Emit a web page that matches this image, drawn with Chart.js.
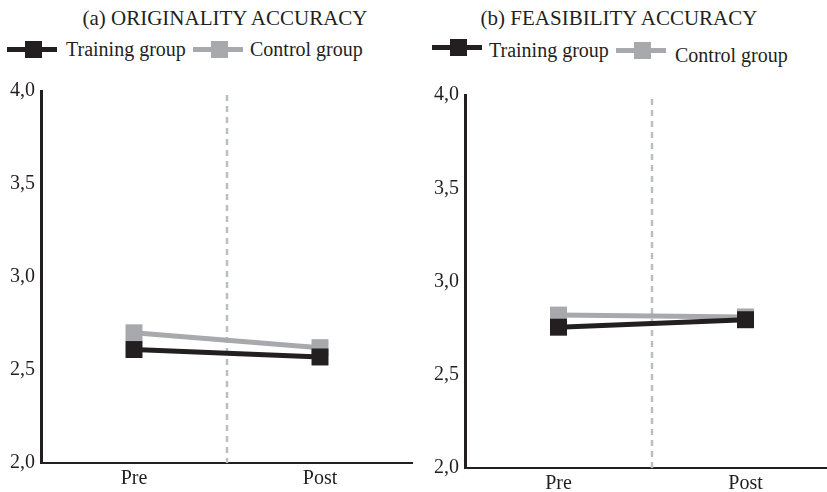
<!DOCTYPE html>
<html>
<head>
<meta charset="utf-8">
<script src="https://cdn.jsdelivr.net/npm/chart.js@4/dist/chart.umd.min.js"></script>
<style>
  html, body { margin: 0; padding: 0; background: #fff; overflow: hidden; width: 827px; height: 492px; }
  body { position: relative; font-family: "Liberation Serif", "Times New Roman", serif; color: #231f20; }
  canvas { position: absolute; top: 0; }
  .title { position: absolute; top: 6px; font-size: 21px; line-height: 24px; white-space: nowrap; transform: translateX(-50%); }
  .sym { position: absolute; width: 50px; height: 5px; }
  .sym i { position: absolute; left: 18px; top: -6px; width: 17px; height: 17px; background: inherit; }
  .lab { position: absolute; font-size: 20px; line-height: 23px; white-space: nowrap; }
</style>
</head>
<body>
<div class="title" style="left:225px">(a) ORIGINALITY ACCURACY</div>
<div class="sym" style="left:7px;top:47px;background:#231f20"><i></i></div>
<div class="lab" style="left:66px;top:38px">Training group</div>
<div class="sym" style="left:193px;top:47px;background:#a7a9ac"><i></i></div>
<div class="lab" style="left:250px;top:38px">Control group</div>

<div class="title" style="left:619px">(b) FEASIBILITY ACCURACY</div>
<div class="sym" style="left:432px;top:45px;background:#231f20"><i></i></div>
<div class="lab" style="left:489px;top:39px">Training group</div>
<div class="sym" style="left:616px;top:48px;background:#a7a9ac"><i></i></div>
<div class="lab" style="left:675px;top:44px">Control group</div>

<canvas id="chartA" width="413" height="492" style="left:0"></canvas>
<canvas id="chartB" width="426" height="492" style="left:413px"></canvas>

<script>
const categories = ['Pre', 'Post'];
const originalityTraining = [2.61, 2.57];
const originalityControl = [2.70, 2.62];
const feasibilityTraining = [2.755, 2.795];
const feasibilityControl = [2.82, 2.81];
const yTicks = [2.0, 2.5, 3.0, 3.5, 4.0];

const dark = '#231f20';
const grey = '#a7a9ac';
const font = { family: '"Liberation Serif", "Times New Roman", serif', size: 20 };

// dashed separator between Pre and Post
const splitLine = {
  id: 'splitLine',
  beforeDatasetsDraw(chart) {
    const x = chart.scales.x;
    const area = chart.chartArea;
    const px = (x.getPixelForValue(0) + x.getPixelForValue(1)) / 2;
    const ctx = chart.ctx;
    ctx.save();
    ctx.strokeStyle = '#bcbec0';
    ctx.lineWidth = 2.5;
    ctx.setLineDash([6, 5]);
    ctx.beginPath();
    ctx.moveTo(px, area.top + 4);
    ctx.lineTo(px, area.bottom);
    ctx.stroke();
    ctx.restore();
  }
};

function makeChart(id, training, control, yWidth, top, xHeight) {
  new Chart(document.getElementById(id), {
    type: 'line',
    data: {
      labels: categories,
      datasets: [
        { label: 'Training group', data: training, borderColor: dark, backgroundColor: dark },
        { label: 'Control group', data: control, borderColor: grey, backgroundColor: grey }
      ]
    },
    options: {
      responsive: false,
      animation: false,
      layout: { autoPadding: false, padding: { top: top, left: 0, right: 0, bottom: 0 } },
      elements: {
        line: { borderWidth: 5, tension: 0 },
        point: { pointStyle: 'rect', radius: 12, borderWidth: 0, hoverRadius: 12 }
      },
      plugins: { legend: { display: false }, tooltip: { enabled: false } },
      scales: {
        x: {
          offset: true,
          grid: { display: false, drawTicks: false },
          border: { display: true, color: dark, width: 2 },
          ticks: { color: dark, font: font, padding: 4 },
          afterFit(s) { s.height = xHeight; }
        },
        y: {
          min: yTicks[0],
          max: yTicks[yTicks.length - 1],
          grid: { display: false, drawTicks: false },
          border: { display: true, color: dark, width: 3 },
          ticks: {
            color: dark, font: font, padding: 6,
            callback: v => v.toFixed(1).replace('.', ',')
          },
          afterBuildTicks(s) { s.ticks = yTicks.map(v => ({ value: v })); },
          afterFit(s) { s.width = yWidth; }
        }
      }
    },
    plugins: [splitLine]
  });
}

makeChart('chartA', originalityTraining, originalityControl, 41, 91, 29);
makeChart('chartB', feasibilityTraining, feasibilityControl, 52, 95, 24);
</script>
</body>
</html>
